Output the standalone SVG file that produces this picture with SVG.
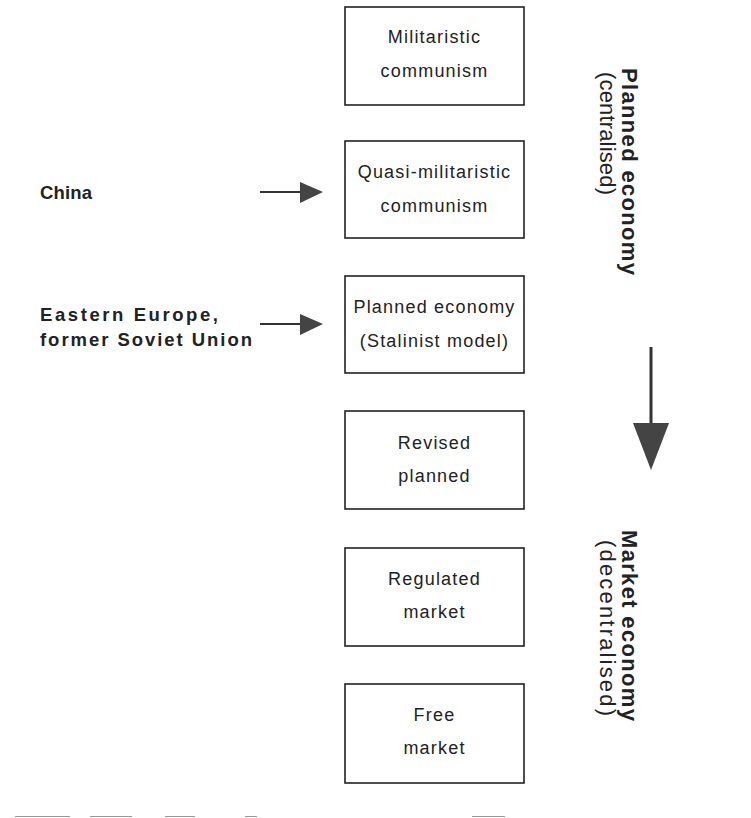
<svg xmlns="http://www.w3.org/2000/svg" width="751" height="818" viewBox="0 0 751 818">
<style>
.box{fill:#fff;stroke:#222;stroke-width:1.6}
.bt{font-family:"Liberation Sans",Arial,sans-serif;font-size:18px;fill:#222;text-anchor:middle;letter-spacing:1.2px}
.lt{font-family:"Liberation Sans",Arial,sans-serif;font-size:18.5px;font-weight:bold;fill:#222}
.vt{font-family:"Liberation Sans",Arial,sans-serif;font-size:22px;fill:#222}
.vb{font-weight:bold}
.ln{stroke:#333;stroke-width:2;fill:none}
.hd{fill:#444}
.scan{stroke:#999;stroke-width:1}
</style>
<rect width="751" height="818" fill="#fff"/>
<g id="node-militaristic">
<rect class="box" x="345" y="7" width="179" height="98"/>
<text class="bt" x="434.5" y="43">Militaristic</text>
<text class="bt" x="434.5" y="77">communism</text>
</g>
<g id="node-quasi">
<rect class="box" x="345" y="141" width="179" height="97"/>
<text class="bt" x="434.5" y="178">Quasi-militaristic</text>
<text class="bt" x="434.5" y="212">communism</text>
</g>
<g id="node-planned">
<rect class="box" x="345" y="276" width="179" height="97"/>
<text class="bt" x="434.5" y="313">Planned economy</text>
<text class="bt" x="434.5" y="347">(Stalinist model)</text>
</g>
<g id="node-revised">
<rect class="box" x="345" y="411" width="179" height="98"/>
<text class="bt" x="434.5" y="449">Revised</text>
<text class="bt" x="434.5" y="482">planned</text>
</g>
<g id="node-regulated">
<rect class="box" x="345" y="548" width="179" height="98"/>
<text class="bt" x="434.5" y="585">Regulated</text>
<text class="bt" x="434.5" y="618">market</text>
</g>
<g id="node-free">
<rect class="box" x="345" y="684" width="179" height="99"/>
<text class="bt" x="434.5" y="721">Free</text>
<text class="bt" x="434.5" y="754">market</text>
</g>
<g id="node-china">
<text class="lt" x="40" y="199" textLength="52" lengthAdjust="spacing">China</text>
</g>
<g id="node-eastern">
<text class="lt" x="40" y="321" textLength="178" lengthAdjust="spacing">Eastern Europe,</text>
<text class="lt" x="40" y="346" textLength="212" lengthAdjust="spacing">former Soviet Union</text>
</g>
<g id="node-planned-label">
<text class="vt vb" transform="translate(622,68) rotate(90)" textLength="207" lengthAdjust="spacing">Planned economy</text>
<text class="vt" transform="translate(600,72) rotate(90)" textLength="123" lengthAdjust="spacing">(centralised)</text>
</g>
<g id="node-market-label">
<text class="vt vb" transform="translate(622,530) rotate(90)" textLength="191" lengthAdjust="spacing">Market economy</text>
<text class="vt" transform="translate(600,540) rotate(90)" textLength="176" lengthAdjust="spacing">(decentralised)</text>
</g>
<g id="connectors">
<line class="ln" x1="260" y1="192" x2="302" y2="192"/>
<polygon class="hd" points="300,182 323,192 300,203"/>
<line class="ln" x1="260" y1="324" x2="302" y2="324"/>
<polygon class="hd" points="300,314 323,324 300,335"/>
<line x1="651" y1="347" x2="651" y2="425" stroke="#333" stroke-width="3"/>
<polygon class="hd" points="633,423 669,423 651,470"/>
</g>
<g id="scan-marks">
<line class="scan" x1="15" y1="816.5" x2="70" y2="816.5"/>
<line class="scan" x1="90" y1="816.5" x2="132" y2="816.5"/>
<line class="scan" x1="165" y1="816.5" x2="195" y2="816.5"/>
<line class="scan" x1="245" y1="816.5" x2="257" y2="816.5"/>
<line class="scan" x1="472" y1="816.5" x2="505" y2="816.5"/>
</g>
</svg>
